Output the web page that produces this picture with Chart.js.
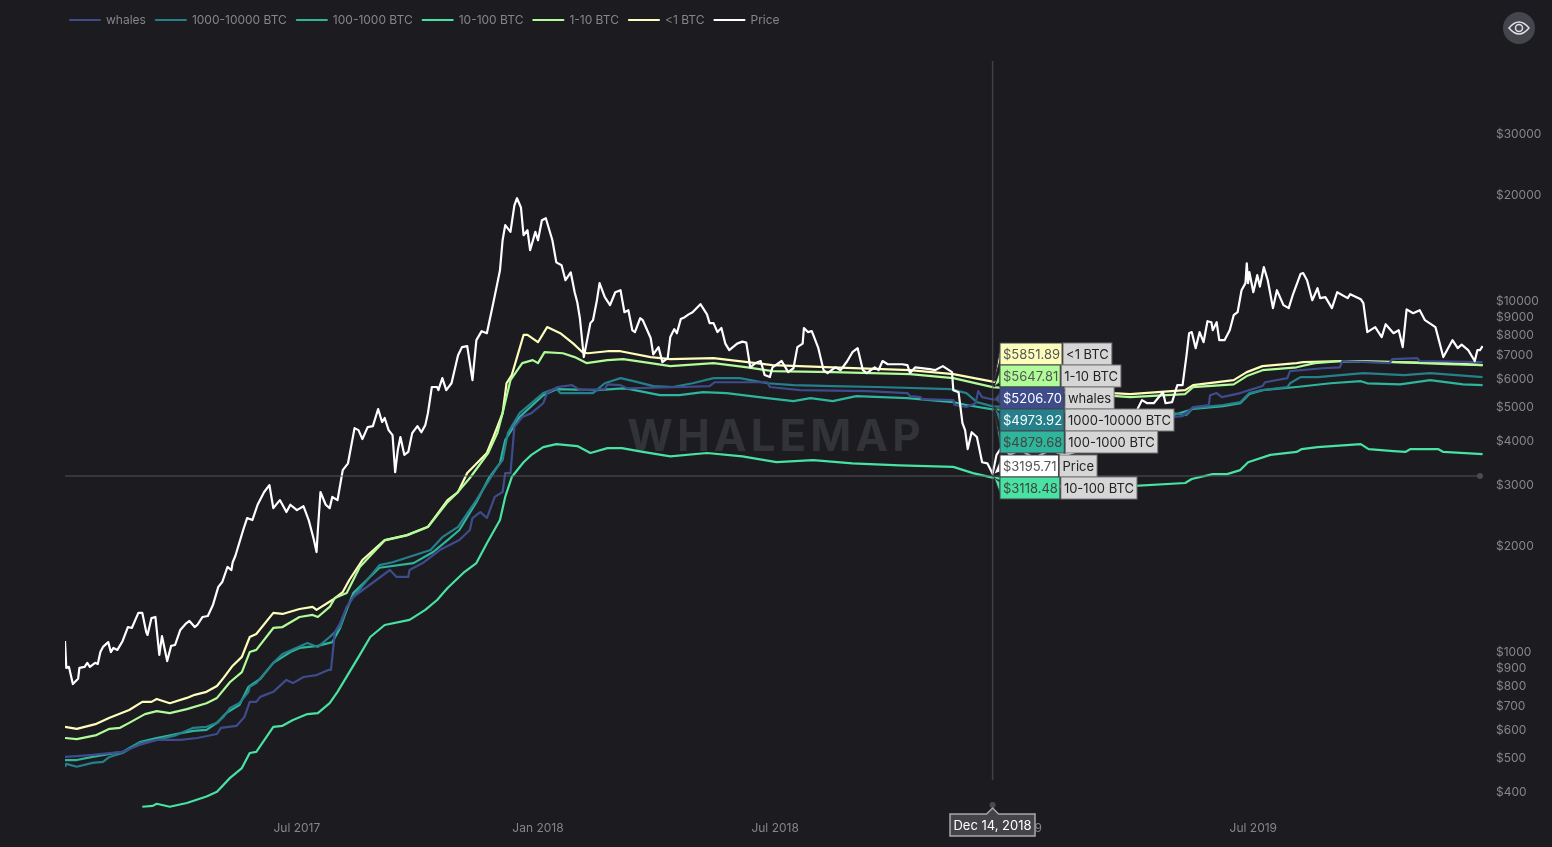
<!DOCTYPE html>
<html lang="en">
<head>
  <meta charset="UTF-8">
  <title>Whalemap realized price</title>
  <script src="https://cdn.jsdelivr.net/npm/chart.js"></script>
  <style>
    html, body { margin: 0; padding: 0; background: #1b1b20; overflow: hidden; }
    canvas { display: block; }
  </style>
</head>
<body>
  <canvas id="myChart" width="1552" height="847"></canvas>

  <script>
    // x values are days since Jan 1, 2017
    const xTickDays = [181, 365, 546, 730, 911];
    const xTickLabels = ['Jul 2017', 'Jan 2018', 'Jul 2018', 'Jan 2019', 'Jul 2019'];
    const yTicks = [400, 500, 600, 700, 800, 900, 1000, 2000, 3000, 4000, 5000, 6000, 7000, 8000, 9000, 10000, 20000, 30000];

    const seriesNames = ['whales', '1000-10000 BTC', '100-1000 BTC', '10-100 BTC', '1-10 BTC', '<1 BTC', 'Price'];
    const seriesColors = ['#3e4c8c', '#26808c', '#2fb59b', '#48e3a2', '#b0fc98', '#fdfdbc', '#ffffff'];

    const whalesDays = [4, 13, 25, 38, 48, 61, 74, 92, 105, 120, 123, 135, 141, 145, 150, 153, 163, 173, 178, 186, 196, 205, 207, 210, 214, 219, 224, 252, 257, 266, 267, 277, 290, 305, 313, 315, 321, 326, 332, 338, 340, 344, 347, 353, 360, 369, 372, 380, 391, 397, 416, 418, 428, 433, 476, 496, 500, 540, 542, 565, 616, 647, 649, 657, 658, 682, 683, 692, 699, 701, 704, 712, 850, 857, 865, 877, 878, 883, 887, 901, 908, 918, 920, 937, 939, 964, 977, 979, 998, 1015, 1017, 1036, 1038, 1086];
    const whalesValues = [499, 502, 506, 512, 516, 540, 558, 558, 565, 580, 604, 612, 649, 716, 716, 740, 765, 827, 810, 843, 854, 883, 883, 1133, 1202, 1335, 1425, 1701, 1625, 1625, 1701, 1780, 1939, 2070, 2211, 2392, 2487, 2392, 2747, 2837, 3212, 3212, 4343, 4640, 4760, 5080, 5430, 5650, 5720, 5535, 5570, 5750, 5720, 5600, 5650, 5685, 5830, 5830, 5650, 5535, 5500, 5430, 5320, 5285, 5220, 5184, 5020, 4955, 5080, 5500, 5285, 5207, 4640, 4670, 4955, 5020, 5355, 5430, 5285, 5430, 5535, 5685, 5830, 5990, 6270, 6390, 6430, 6700, 6650, 6610, 6785, 6830, 6700, 6650];

    const btc1000Days = [4, 5, 13, 25, 33, 38, 48, 61, 74, 89, 102, 112, 120, 125, 130, 137, 144, 145, 150, 163, 170, 189, 197, 206, 214, 219, 224, 244, 254, 283, 292, 304, 318, 334, 338, 342, 351, 369, 379, 382, 389, 407, 416, 428, 438, 453, 468, 483, 499, 519, 540, 560, 590, 624, 680, 692, 700, 712, 850, 860, 865, 888, 901, 908, 918, 937, 939, 947, 960, 995, 1026, 1046, 1086];
    const btc1000Values = [468, 477, 468, 480, 483, 499, 512, 547, 558, 576, 604, 608, 624, 649, 688, 710, 765, 790, 810, 925, 980, 1054, 1027, 1096, 1170, 1326, 1425, 1756, 1790, 1939, 2110, 2258, 2691, 3345, 3498, 4175, 4760, 5430, 5600, 5430, 5430, 5430, 5790, 5990, 5870, 5685, 5650, 5790, 5990, 5990, 5790, 5720, 5685, 5650, 5570, 5430, 5115, 4974, 4760, 4700, 4920, 5020, 5115, 5430, 5535, 5650, 5790, 6030, 6030, 6190, 6110, 6190, 6030];

    const btc100Days = [4, 13, 25, 38, 48, 61, 74, 89, 102, 112, 120, 127, 137, 144, 153, 163, 176, 183, 197, 208, 214, 219, 224, 244, 270, 285, 296, 305, 318, 328, 336, 340, 351, 369, 379, 410, 430, 435, 458, 473, 491, 509, 540, 560, 573, 590, 608, 647, 682, 692, 712, 850, 865, 888, 901, 908, 918, 944, 970, 993, 998, 1023, 1046, 1071, 1086];
    const btc100Values = [489, 489, 499, 509, 516, 550, 565, 580, 592, 596, 624, 665, 701, 790, 832, 925, 993, 1020, 1034, 1060, 1163, 1309, 1462, 1726, 1780, 1914, 2070, 2211, 2655, 3130, 3430, 3988, 4640, 5355, 5570, 5535, 5600, 5570, 5355, 5355, 5465, 5430, 5250, 5150, 5250, 5150, 5320, 5250, 5115, 5020, 4880, 4700, 4890, 4985, 5080, 5395, 5535, 5650, 5790, 5870, 5790, 5750, 5910, 5750, 5720];

    const btc10Days = [63, 71, 74, 84, 97, 112, 120, 130, 139, 145, 150, 163, 170, 178, 189, 197, 206, 212, 229, 237, 248, 267, 279, 288, 296, 308, 318, 326, 336, 340, 345, 354, 360, 369, 379, 395, 405, 418, 429, 445, 466, 494, 521, 547, 575, 605, 641, 682, 697, 712, 770, 817, 859, 864, 880, 891, 901, 907, 924, 944, 948, 960, 993, 999, 1018, 1027, 1031, 1052, 1056, 1086];
    const btc10Values = [360, 362, 367, 360, 369, 385, 397, 435, 464, 512, 516, 608, 612, 636, 661, 665, 710, 765, 975, 1096, 1186, 1226, 1309, 1397, 1512, 1668, 1780, 2028, 2361, 2747, 3130, 3450, 3620, 3810, 3885, 3835, 3665, 3785, 3785, 3690, 3585, 3665, 3585, 3450, 3498, 3425, 3380, 3345, 3212, 3118, 2930, 2950, 3010, 3090, 3190, 3190, 3276, 3450, 3620, 3690, 3760, 3810, 3885, 3760, 3710, 3690, 3760, 3760, 3690, 3640];

    const btc1Days = [4, 13, 28, 38, 46, 53, 65, 74, 84, 97, 112, 120, 130, 139, 145, 150, 163, 170, 183, 193, 197, 206, 210, 219, 229, 248, 265, 281, 296, 303, 313, 327, 334, 338, 344, 353, 361, 365, 370, 384, 393, 402, 418, 430, 451, 466, 499, 525, 544, 590, 649, 682, 712, 817, 859, 865, 896, 906, 918, 944, 958, 979, 1021, 1059, 1086];
    const btc1Values = [565, 561, 576, 600, 604, 624, 661, 674, 665, 683, 710, 735, 816, 871, 993, 1007, 1163, 1170, 1250, 1267, 1250, 1335, 1416, 1462, 1735, 2065, 2135, 2255, 2655, 2815, 3110, 3665, 4175, 4760, 5910, 6610, 6738, 6610, 7100, 7050, 6875, 6610, 6738, 6785, 6610, 6480, 6610, 6430, 6270, 6230, 6150, 5990, 5648, 5285, 5395, 5645, 5750, 6070, 6310, 6430, 6610, 6700, 6650, 6560, 6520];

    const under1Days = [4, 13, 28, 38, 53, 63, 70, 74, 84, 97, 103, 112, 120, 125, 132, 139, 145, 150, 163, 170, 183, 193, 196, 208, 216, 221, 231, 248, 265, 281, 296, 304, 311, 326, 331, 338, 341, 345, 354, 357, 365, 372, 382, 392, 399, 403, 418, 428, 451, 466, 499, 525, 544, 590, 649, 682, 712, 804, 817, 859, 865, 896, 906, 918, 944, 949, 979, 1021, 1059, 1086];
    const under1Values = [608, 600, 620, 645, 679, 716, 716, 730, 710, 735, 750, 765, 795, 838, 908, 962, 1096, 1118, 1284, 1275, 1317, 1335, 1309, 1397, 1472, 1593, 1816, 2070, 2140, 2258, 2691, 2837, 3212, 3665, 4070, 4760, 5790, 6110, 7950, 7950, 7580, 8370, 8040, 7510, 7100, 7050, 7145, 7145, 6875, 6785, 6830, 6650, 6520, 6430, 6310, 6150, 5852, 5430, 5395, 5535, 5720, 5910, 6230, 6480, 6610, 6650, 6700, 6650, 6610, 6520];

    const priceDays = [4, 5, 7, 10, 14, 15, 19, 21, 23, 27, 29, 31, 33, 37, 39, 41, 44, 48, 52, 55, 60, 63, 66, 67, 70, 73, 76, 78, 82, 85, 88, 92, 96, 99, 103, 105, 109, 113, 117, 121, 124, 128, 131, 132, 134, 140, 143, 147, 151, 156, 160, 163, 168, 173, 176, 181, 186, 190, 194, 196, 197, 199, 203, 206, 208, 212, 216, 220, 225, 228, 231, 235, 239, 243, 246, 248, 251, 254, 256, 258, 260, 263, 266, 269, 273, 276, 279, 281, 284, 288, 289, 292, 295, 299, 304, 307, 311, 315, 318, 322, 326, 331, 334, 336, 338, 340, 344, 347, 349, 352, 354, 357, 359, 363, 365, 368, 371, 376, 379, 383, 386, 390, 393, 395, 397, 400, 405, 407, 410, 412, 416, 420, 424, 428, 431, 434, 437, 439, 443, 445, 451, 453, 457, 460, 464, 466, 469, 471, 474, 477, 480, 483, 489, 494, 496, 499, 502, 505, 508, 511, 517, 521, 524, 527, 531, 535, 538, 542, 544, 551, 556, 560, 563, 567, 568, 571, 574, 579, 583, 586, 592, 596, 601, 605, 609, 613, 616, 622, 625, 628, 632, 638, 643, 647, 649, 653, 664, 668, 674, 681, 682, 686, 689, 691, 693, 696, 700, 704, 708, 712, 715, 720, 725, 733, 744, 756, 767, 775, 786, 794, 805, 815, 819, 821, 826, 830, 835, 842, 844, 849, 853, 857, 860, 862, 864, 867, 870, 873, 876, 879, 880, 883, 885, 889, 893, 896, 899, 902, 905, 906, 907, 908, 911, 914, 916, 919, 922, 926, 929, 934, 938, 941, 947, 949, 952, 956, 960, 962, 966, 971, 975, 983, 985, 993, 995, 998, 1004, 1009, 1012, 1018, 1022, 1025, 1028, 1033, 1038, 1042, 1050, 1056, 1063, 1067, 1070, 1075, 1080, 1082, 1084, 1086];
    const priceValues = [1068, 895, 901, 805, 833, 895, 901, 925, 901, 925, 918, 993, 1027, 1060, 993, 1020, 1007, 1068, 1170, 1163, 1284, 1284, 1133, 1111, 1241, 1250, 975, 1103, 936, 1034, 1040, 1148, 1194, 1218, 1170, 1186, 1250, 1258, 1355, 1523, 1572, 1735, 1701, 1790, 1865, 2211, 2392, 2361, 2610, 2837, 2970, 2552, 2691, 2487, 2610, 2520, 2585, 2361, 2070, 1914, 2211, 2837, 2610, 2552, 2747, 2691, 3276, 3425, 4314, 4258, 4015, 4343, 4373, 4890, 4490, 4610, 4258, 4120, 3232, 3735, 4070, 3620, 3690, 4175, 4373, 4200, 4400, 4760, 5650, 5650, 5535, 5990, 5535, 5790, 6955, 7340, 7390, 5910, 7682, 8150, 8040, 9850, 11170, 12155, 14795, 16340, 15630, 18600, 19500, 18340, 15290, 15800, 13860, 15630, 14795, 16870, 17100, 14795, 12800, 12560, 11385, 11990, 10520, 9850, 8870, 6875, 8590, 8758, 9985, 11170, 10190, 9670, 10520, 10660, 9230, 9351, 8202, 8100, 8870, 8758, 7790, 7000, 7340, 6650, 6830, 7840, 8260, 8040, 8820, 8930, 9100, 9230, 9730, 9100, 8590, 8590, 8100, 8320, 7510, 7194, 7510, 7610, 7560, 6430, 6610, 6700, 6110, 6030, 6430, 6700, 6230, 6390, 7340, 7510, 8320, 8100, 8150, 7290, 6310, 6190, 6430, 6310, 6690, 7100, 7290, 6310, 6190, 6430, 6310, 6700, 6560, 6560, 6560, 6520, 6190, 6430, 6350, 6310, 6480, 6230, 5535, 5460, 4460, 4258, 3760, 4200, 4070, 3450, 3425, 3196, 3620, 3860, 3620, 3735, 3545, 3735, 3620, 3690, 3735, 3810, 3860, 3988, 4120, 4760, 5184, 5080, 5080, 5465, 5080, 5115, 5720, 5720, 6955, 8040, 8100, 7290, 8100, 7580, 8700, 8640, 8202, 8640, 7682, 7682, 8202, 9050, 9230, 10660, 11170, 12720, 11170, 12000, 10520, 11770, 10920, 12400, 11385, 9480, 10660, 9670, 9480, 10300, 11850, 11930, 11385, 9985, 10800, 10120, 10190, 9480, 10520, 10120, 10390, 10050, 9790, 8100, 8370, 7840, 8530, 8040, 8202, 7340, 9400, 9170, 9351, 8758, 8370, 6875, 7682, 7290, 7460, 7194, 6700, 7194, 7194, 7390];

    // what the crosshair is showing
    const cursorDay = 712;
    const cursorPrice = 3150;
    const cursorDate = 'Dec 14, 2018';
    const tagNames = ['<1 BTC', '1-10 BTC', 'whales', '1000-10000 BTC', '100-1000 BTC', 'Price', '10-100 BTC'];
    const tagPrices = [5851.89, 5647.81, 5206.70, 4973.92, 4879.68, 3195.71, 3118.48];

    const daysList = [whalesDays, btc1000Days, btc100Days, btc10Days, btc1Days, under1Days, priceDays];
    const valuesList = [whalesValues, btc1000Values, btc100Values, btc10Values, btc1Values, under1Values, priceValues];

    const FONT = 'Inter, "Noto Sans", sans-serif';
    const tagCenters = [354, 376, 398, 420, 442, 466, 488];
    const tagTextColors = ['#555', '#555', '#fff', '#fff', '#444', '#555', '#444'];

    Chart.defaults.font.family = FONT;
    Chart.defaults.font.size = 12;
    Chart.defaults.color = '#85858a';

    // watermark sits behind the lines
    const watermark = {
      id: 'watermark',
      beforeDatasetsDraw(chart) {
        const c = chart.ctx;
        c.save();
        c.font = 'bold 44px ' + FONT;
        c.letterSpacing = '4px';
        c.fillStyle = '#323338';
        c.textAlign = 'center';
        c.textBaseline = 'middle';
        c.fillText('WHALEMAP', 776, 438);
        c.restore();
      }
    };

    // moves the legend a bit left of the plot area
    const legendLeft = {
      id: 'legendLeft',
      afterLayout(chart) { chart.legend.left = 60; }
    };

    const crosshair = {
      id: 'crosshair',
      afterDatasetsDraw(chart) {
        const c = chart.ctx;
        const x = chart.scales.x.getPixelForValue(cursorDay);
        const y = chart.scales.y.getPixelForValue(cursorPrice);
        c.save();
        c.strokeStyle = 'rgba(90,91,98,0.6)';
        c.lineWidth = 1.5;
        c.beginPath();
        c.moveTo(x, 61); c.lineTo(x, 780);
        c.moveTo(65, y); c.lineTo(1480, y);
        c.stroke();
        c.fillStyle = '#4a4b50';
        c.beginPath(); c.arc(1480, y, 3, 0, Math.PI * 2); c.fill();
        c.beginPath(); c.arc(x, 805, 3, 0, Math.PI * 2); c.fill();
        c.restore();
      }
    };

    function drawTags(chart) {
      const c = chart.ctx;
      c.save();
      c.font = '13px ' + FONT;
      c.textBaseline = 'middle';
      c.textAlign = 'left';
      tagNames.forEach(function(name, i) {
        const mid = tagCenters[i];
        const top = mid - 11;
        const color = seriesColors[seriesNames.indexOf(name)];
        const text = '$' + tagPrices[i].toFixed(2);
        const w = c.measureText(text).width + 5;
        const lw = c.measureText(name).width + 6;
        const apex = chart.scales.y.getPixelForValue(tagPrices[i]);

        c.strokeStyle = '#2a2a2e';
        c.lineWidth = 1;
        c.fillStyle = color;
        c.beginPath();
        c.moveTo(994, apex);
        c.lineTo(1000, mid - 6);
        c.lineTo(1000, mid + 6);
        c.closePath();
        c.fill();
        c.stroke();

        c.fillStyle = '#d6d6d6';
        c.fillRect(1000 + w + 1, top, lw, 22);
        c.strokeStyle = '#77777a';
        c.strokeRect(1000 + w + 1, top, lw, 22);
        c.fillStyle = '#222';
        c.fillText(name, 1000 + w + 4, mid + 1.5);

        c.fillStyle = color;
        c.fillRect(1000, top, w, 22);
        c.strokeStyle = '#44444a';
        c.strokeRect(1000, top, w, 22);
        c.fillStyle = tagTextColors[i];
        c.fillText(text, 1003, mid + 1.5);
      });
      c.restore();
    }

    function drawDateBadge(chart) {
      const c = chart.ctx;
      const x = chart.scales.x.getPixelForValue(cursorDay);
      c.save();
      c.fillStyle = '#444448';
      c.strokeStyle = '#a8a8a8';
      c.lineWidth = 1.5;
      c.beginPath();
      c.moveTo(950, 814);
      c.lineTo(x - 6, 814);
      c.lineTo(x, 808);
      c.lineTo(x + 6, 814);
      c.lineTo(1035, 814);
      c.lineTo(1035, 836);
      c.lineTo(950, 836);
      c.closePath();
      c.fill();
      c.stroke();
      c.fillStyle = '#fff';
      c.font = '13px ' + FONT;
      c.textAlign = 'center';
      c.textBaseline = 'middle';
      c.fillText(cursorDate, 992.5, 826);
      c.restore();
    }

    function drawEye(chart) {
      const c = chart.ctx;
      c.save();
      c.fillStyle = '#45464d';
      c.beginPath(); c.arc(1519, 28, 16, 0, Math.PI * 2); c.fill();
      c.strokeStyle = '#e0e0e0';
      c.lineWidth = 1.5;
      c.beginPath();
      c.moveTo(1509, 28);
      c.quadraticCurveTo(1519, 16, 1529, 28);
      c.quadraticCurveTo(1519, 40, 1509, 28);
      c.closePath();
      c.stroke();
      c.beginPath(); c.arc(1519, 28, 3.5, 0, Math.PI * 2); c.stroke();
      c.restore();
    }

    const overlays = {
      id: 'overlays',
      afterDraw(chart) {
        drawTags(chart);
        drawDateBadge(chart);
        drawEye(chart);
      }
    };

    const myChart = new Chart(document.getElementById('myChart').getContext('2d'), {
      type: 'line',
      data: {
        datasets: seriesNames.map(function(name, i) {
          return {
            label: name,
            data: daysList[i].map(function(d, j) { return { x: d, y: valuesList[i][j] }; }),
            borderColor: seriesColors[i],
            backgroundColor: seriesColors[i],
            borderWidth: 2.2,
            borderJoinStyle: 'round',
            pointRadius: 0,
            tension: 0,
            order: name === 'Price' ? -1 : 0
          };
        })
      },
      options: {
        responsive: false,
        animation: false,
        layout: { padding: { left: 65, top: 4, right: 0, bottom: 0 } },
        plugins: {
          tooltip: { enabled: false },
          legend: {
            align: 'start',
            onClick: null,
            labels: {
              boxWidth: 30,
              boxHeight: 0,
              padding: 10,
              color: '#85858a',
              font: { size: 12 },
              sort(a, b) { return a.datasetIndex - b.datasetIndex; }
            }
          }
        },
        scales: {
          x: {
            type: 'linear',
            min: 4,
            max: 1086.3,
            grid: { display: false },
            border: { display: false },
            afterBuildTicks(scale) { scale.ticks = xTickDays.map(function(v) { return { value: v }; }); },
            afterFit(scale) { scale.height = 39; },
            ticks: {
              autoSkip: false,
              maxRotation: 0,
              padding: 5,
              callback(value) { return xTickLabels[xTickDays.indexOf(value)]; }
            }
          },
          y: {
            type: 'logarithmic',
            position: 'right',
            min: 357,
            max: 56500,
            grid: { display: false },
            border: { display: false },
            afterBuildTicks(scale) { scale.ticks = yTicks.map(function(v) { return { value: v }; }); },
            afterFit(scale) { scale.width = 69; },
            ticks: {
              autoSkip: false,
              padding: 5,
              labelOffset: 1.5,
              callback(value) { return '$' + value; }
            }
          }
        }
      },
      plugins: [watermark, legendLeft, crosshair, overlays]
    });
  </script>
</body>
</html>
